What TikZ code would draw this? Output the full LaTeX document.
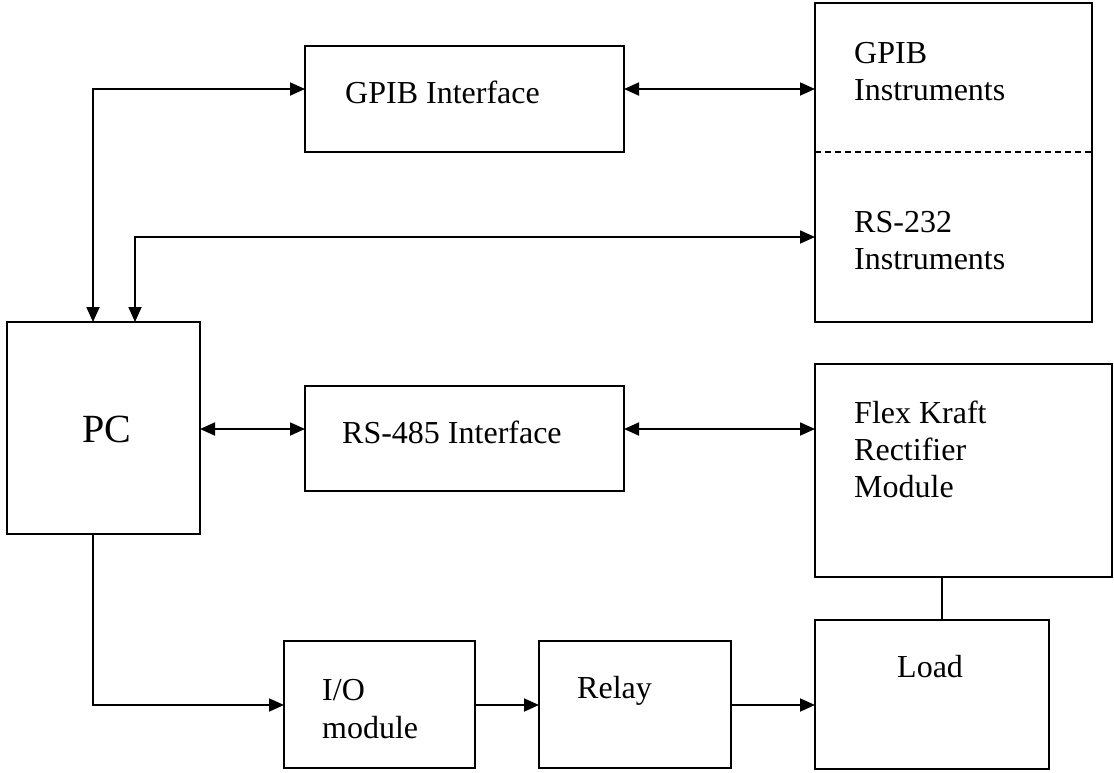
\documentclass[tikz,border=0pt]{standalone}
\usepackage{fontspec}
\setmainfont{Liberation Serif}
\usetikzlibrary{arrows.meta}
\tikzset{
  blockbox/.style={draw, line width=1.8pt, inner sep=0pt, outer sep=0pt, anchor=north west},
  lbl/.style={anchor=base west, inner sep=0pt, font=\fontsize{32}{37}\selectfont, align=left},
  wire/.style={line width=1.8pt},
  oneway/.style={wire, -{Triangle[length=15pt,width=13pt]}},
  twoway/.style={wire, {Triangle[length=15pt,width=13pt]}-{Triangle[length=15pt,width=13pt]}},
}
\begin{document}
\begin{tikzpicture}[x=1pt, y=-1pt]
\useasboundingbox (0,0) rectangle (1114,772);

% blocks
\node[blockbox, minimum width=319pt, minimum height=106pt] (gpibif) at (305,46) {};
\node[blockbox, minimum width=277pt, minimum height=319pt] (instr) at (815,3) {};
\node[blockbox, minimum width=193pt, minimum height=212pt] (pc) at (7,322) {};
\node[blockbox, minimum width=319pt, minimum height=105pt] (rsif) at (305,386) {};
\node[blockbox, minimum width=297pt, minimum height=213pt] (flex) at (815,364) {};
\node[blockbox, minimum width=234pt, minimum height=149pt] (load) at (815,620) {};
\node[blockbox, minimum width=191pt, minimum height=127pt] (io) at (284,641) {};
\node[blockbox, minimum width=192pt, minimum height=127pt] (relay) at (539,641) {};

% divider between the two instrument groups
\coordinate (split) at (0,152);
\draw[line width=1.2pt, dash pattern=on 6pt off 4pt] (split -| instr.west) -- (split -| instr.east);

% labels
\node[lbl] (tgpibif) at (345,103) {GPIB Interface};
\node[lbl] (tgpib) at (854,63) {GPIB};
\node[lbl] (tgpibi) at (854,100) {Instruments};
\node[lbl] (trs232) at (854,232) {RS-232};
\node[lbl] (trs232i) at (854,269) {Instruments};
\node[anchor=center, inner sep=0pt, font=\fontsize{40}{46}\selectfont] (tpc) at (107,429) {PC};
\node[lbl] (trsif) at (342,443) {RS-485 Interface};
\node[lbl] (tflex) at (854,423) {Flex Kraft};
\node[lbl] (trect) at (854,460) {Rectifier};
\node[lbl] (tmod) at (854,497) {Module};
\node[lbl] (tio) at (322,700) {I/O};
\node[lbl] (tiom) at (322,738) {module};
\node[lbl] (trelay) at (577,698) {Relay};
\node[lbl] (tload) at (897,677) {Load};

% routing coordinates
\coordinate (gbus) at (93,89);
\coordinate (rbus) at (135,237);
\coordinate (mbus) at (0,429);
\coordinate (dbus) at (93,705);
\coordinate (pbus) at (942,0);

% connectors
\draw[twoway] (gbus |- pc.north) |- (gbus -| gpibif.west);
\draw[twoway] (gbus -| gpibif.east) -- (gbus -| instr.west);
\draw[twoway] (rbus |- pc.north) |- (rbus -| instr.west);
\draw[twoway] (mbus -| pc.east) -- (mbus -| rsif.west);
\draw[twoway] (mbus -| rsif.east) -- (mbus -| flex.west);
\draw[oneway] (dbus |- pc.south) |- (dbus -| io.west);
\draw[oneway] (dbus -| io.east) -- (dbus -| relay.west);
\draw[oneway] (dbus -| relay.east) -- (dbus -| load.west);
\draw[wire] (pbus |- flex.south) -- (pbus |- load.north);
\end{tikzpicture}
\end{document}
